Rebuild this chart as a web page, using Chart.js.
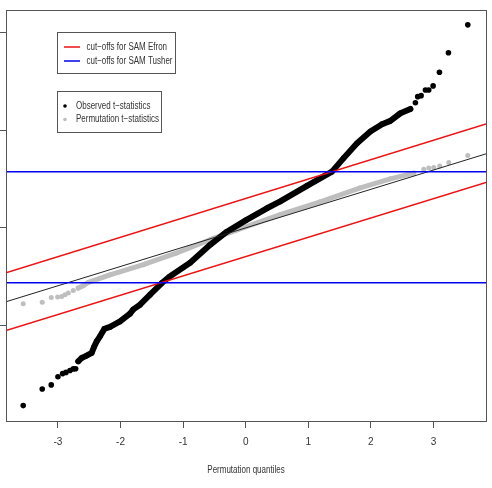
<!DOCTYPE html>
<html>
<head>
<meta charset="utf-8">
<script src="https://cdn.jsdelivr.net/npm/chart.js@4"></script>
<style>
  html, body { margin: 0; padding: 0; background: #fff; }
  canvas { display: block; }
</style>
</head>
<body>
<canvas id="qqChart" width="492" height="488"></canvas>
<script>
// === Data ===
// observed t-statistics (sorted) vs permutation quantiles
const obsLowX = [-3.555, -3.251, -3.107, -3.000, -2.925, -2.872, -2.808, -2.755, -2.717];
const obsLowY = [-9.11, -8.26, -8.05, -7.63, -7.47, -7.41, -7.31, -7.23, -7.22];
const obsBodyX = [-2.675, -2.621, -2.541, -2.461, -2.424, -2.381, -2.328, -2.259, -2.168, -2.008,
                  -1.848, -1.795, -1.688, -1.528, -1.341, -1.219, -0.888, -0.568, -0.301, 0.000,
                  0.339, 0.552, 0.979, 1.379, 1.565, 1.779, 1.992, 2.179, 2.312, 2.472, 2.632];
const obsBodyY = [-6.84, -6.67, -6.55, -6.41, -6.11, -5.82, -5.56, -5.18, -5.08, -4.80,
                  -4.40, -4.18, -3.94, -3.43, -2.83, -2.51, -1.79, -0.87, -0.20, 0.38,
                  1.00, 1.35, 2.15, 2.88, 3.57, 4.33, 4.93, 5.31, 5.48, 5.87, 6.09];
const obsHighX = [2.712, 2.749, 2.803, 2.872, 2.925, 2.995, 3.096, 3.240, 3.549];
const obsHighY = [6.41, 6.72, 6.77, 7.06, 7.06, 7.27, 7.97, 8.97, 10.40];

// permutation t-statistics
const permLowX = [-3.555, -3.251, -3.107, -3.005, -2.941, -2.888, -2.835, -2.755];
const permLowY = [-3.89, -3.82, -3.57, -3.55, -3.52, -3.43, -3.34, -3.21];
const permBodyX = [-2.675, -2.595, -2.515, -2.168, -1.635, -1.101, -0.568, 0.000, 0.552, 1.192, 1.832, 2.312, 2.685];
const permBodyY = [-3.09, -2.97, -2.80, -2.41, -1.89, -1.29, -0.61, 0.05, 0.67, 1.33, 2.05, 2.51, 2.80];
const permHighX = [2.845, 2.925, 3.005, 3.101, 3.245, 3.549];
const permHighY = [3.00, 3.06, 3.09, 3.17, 3.35, 3.70];

// reference line and cut-offs (values at the plot edges)
const xRange = [-3.83, 3.84];
const yRange = [-9.9, 11.16];
const refLineY = [-3.79, 3.79];
const efronUpperY = [-2.30, 5.32];
const efronLowerY = [-5.26, 2.32];
const tusherCuts = [2.87, -2.82];

const xTicks = [-3, -2, -1, 0, 1, 2, 3];
const yTicks = [-5, 0, 5, 10];
const xTitle = 'Permutation quantiles';

const FONT = "'Liberation Sans', Arial, sans-serif";
const zip = (xs, ys) => xs.map((x, i) => ({ x: x, y: ys[i] }));

// narrow text, like the squeezed R device output
function narrowText(ctx, text, x, y, align) {
    ctx.save();
    ctx.translate(x, y);
    ctx.scale(0.8, 1);
    ctx.textAlign = align || 'left';
    ctx.fillText(text, 0, 0);
    ctx.restore();
}

// === Frame + legends + axis title (drawn like R's box(), legend(), title()) ===
const frameAndLegend = {
    id: 'frameAndLegend',
    afterDraw(chart) {
        const ctx = chart.ctx;
        const a = chart.chartArea;
        ctx.save();
        ctx.strokeStyle = '#555';
        ctx.lineWidth = 1;
        ctx.strokeRect(Math.round(a.left) + 0.5, Math.round(a.top) + 0.5,
                       Math.round(a.right - a.left), Math.round(a.bottom - a.top));

        ctx.font = '10px ' + FONT;
        ctx.textBaseline = 'middle';
        ctx.fillStyle = '#333';
        narrowText(ctx, xTitle, (a.left + a.right) / 2, 470, 'center');

        // legend 1: cut-off lines
        ctx.fillStyle = '#fff';
        ctx.fillRect(58, 33, 118, 41);
        ctx.strokeRect(57.5, 32.5, 118, 41);
        ctx.lineWidth = 1.5;
        ctx.strokeStyle = '#ee1111';
        ctx.beginPath(); ctx.moveTo(64, 47); ctx.lineTo(80, 47); ctx.stroke();
        ctx.strokeStyle = '#0000ee';
        ctx.beginPath(); ctx.moveTo(64, 61); ctx.lineTo(80, 61); ctx.stroke();
        ctx.fillStyle = '#333';
        narrowText(ctx, 'cut\u2212offs for SAM Efron', 86.5, 47);
        narrowText(ctx, 'cut\u2212offs for SAM Tusher', 86.5, 61);

        // legend 2: point types
        ctx.lineWidth = 1;
        ctx.strokeStyle = '#555';
        ctx.fillStyle = '#fff';
        ctx.fillRect(58, 92, 104, 41);
        ctx.strokeRect(57.5, 91.5, 104, 41);
        ctx.fillStyle = '#000';
        ctx.beginPath(); ctx.arc(65, 106, 1.8, 0, Math.PI * 2); ctx.fill();
        ctx.fillStyle = '#bebebe';
        ctx.beginPath(); ctx.arc(65, 119.5, 1.8, 0, Math.PI * 2); ctx.fill();
        ctx.fillStyle = '#333';
        narrowText(ctx, 'Observed t\u2212statistics', 76, 106);
        narrowText(ctx, 'Permutation t\u2212statistics', 76, 119.5);
        ctx.restore();
    }
};

const lineSet = (ys, color, width) => ({
    data: zip(xRange, ys),
    showLine: true,
    borderColor: color,
    borderWidth: width,
    pointRadius: 0
});

new Chart(document.getElementById('qqChart'), {
    type: 'scatter',
    data: {
        datasets: [
            lineSet([tusherCuts[0], tusherCuts[0]], '#0000ee', 1.5),
            lineSet([tusherCuts[1], tusherCuts[1]], '#0000ee', 1.5),
            lineSet(efronUpperY, '#ee1111', 1.5),
            lineSet(efronLowerY, '#ee1111', 1.5),
            lineSet(refLineY, '#222', 1),
            {
                data: zip(obsBodyX, obsBodyY),
                showLine: true,
                borderColor: '#000',
                borderWidth: 6,
                borderCapStyle: 'round',
                borderJoinStyle: 'round',
                backgroundColor: '#000',
                pointRadius: 2.8,
                pointBorderWidth: 0
            },
            {
                data: zip(obsLowX, obsLowY).concat(zip(obsHighX, obsHighY)),
                backgroundColor: '#000',
                pointRadius: 2.8,
                pointBorderWidth: 0
            },
            {
                data: zip(permBodyX, permBodyY),
                showLine: true,
                borderColor: '#bebebe',
                borderWidth: 5,
                borderCapStyle: 'round',
                borderJoinStyle: 'round',
                backgroundColor: '#bebebe',
                pointRadius: 2.5,
                pointBorderWidth: 0
            },
            {
                data: zip(permLowX, permLowY).concat(zip(permHighX, permHighY)),
                backgroundColor: '#bebebe',
                pointRadius: 2.5,
                pointBorderWidth: 0
            }
        ]
    },
    options: {
        responsive: false,
        animation: false,
        devicePixelRatio: 1,
        events: [],
        layout: { padding: { left: 0, top: 10, right: 6, bottom: 32 } },
        plugins: { legend: { display: false }, tooltip: { enabled: false } },
        scales: {
            x: {
                type: 'linear',
                position: 'bottom',
                min: xRange[0],
                max: xRange[1],
                afterBuildTicks: s => { s.ticks = xTicks.map(v => ({ value: v })); },
                ticks: { color: '#333', font: { family: FONT, size: 10 }, padding: 8, maxRotation: 0 },
                grid: { drawOnChartArea: false, drawTicks: true, tickLength: 7, color: '#555' },
                border: { display: false }
            },
            y: {
                type: 'linear',
                min: yRange[0],
                max: yRange[1],
                afterBuildTicks: s => { s.ticks = yTicks.map(v => ({ value: v })); },
                ticks: { display: false },
                grid: { drawOnChartArea: false, drawTicks: true, tickLength: 6, color: '#555' },
                border: { display: false }
            }
        }
    },
    plugins: [frameAndLegend]
});
</script>
</body>
</html>
